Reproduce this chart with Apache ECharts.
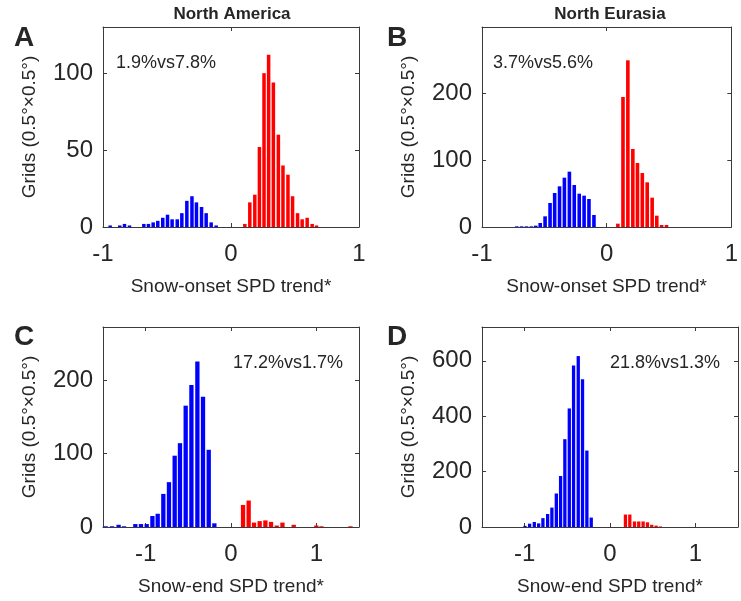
<!DOCTYPE html>
<html>
<head>
<meta charset="utf-8">
<script src="https://cdn.jsdelivr.net/npm/echarts@6/dist/echarts.min.js"></script>
<style>
  html, body { margin: 0; padding: 0; background: #fff; }
  #chart { width: 741px; height: 601px; }
</style>
</head>
<body>
<div id="chart"></div>
<script>
  // bin centres and grid counts
  const naOnsetNegX = [-0.944, -0.869, -0.832, -0.793, -0.681, -0.645, -0.608, -0.572, -0.533, -0.496, -0.46, -0.42, -0.384, -0.345, -0.305, -0.27, -0.23, -0.194, -0.155, -0.116];
  const naOnsetNegY = [1, 1, 2, 1, 2, 2, 3, 4, 6, 8, 5, 5, 9, 17, 20, 16, 13, 9, 3, 1];
  const naOnsetPosX = [0.108, 0.147, 0.186, 0.222, 0.258, 0.294, 0.331, 0.37, 0.406, 0.445, 0.481, 0.52, 0.556, 0.595, 0.634, 0.668];
  const naOnsetPosY = [2, 16, 21, 52, 100, 112, 94, 60, 40, 34, 20, 9, 5, 6, 2, 1];

  const euOnsetNegX = [-0.721, -0.682, -0.643, -0.604, -0.569, -0.533, -0.494, -0.454, -0.417, -0.378, -0.339, -0.299, -0.26, -0.22, -0.181, -0.142, -0.102];
  const euOnsetNegY = [1, 1, 1, 1, 2, 6, 16, 36, 51, 61, 74, 83, 63, 50, 47, 42, 18];
  const euOnsetPosX = [0.09, 0.131, 0.17, 0.21, 0.247, 0.286, 0.325, 0.365, 0.402, 0.441, 0.48];
  const euOnsetPosY = [5, 195, 250, 117, 96, 81, 67, 44, 17, 3, 3];

  const naEndNegX = [-1.469, -1.395, -1.317, -1.254, -1.121, -1.055, -0.988, -0.921, -0.859, -0.793, -0.727, -0.66, -0.598, -0.531, -0.464, -0.394, -0.328, -0.261, -0.195];
  const naEndNegY = [1, 1, 3, 1, 4, 4, 4, 15, 18, 45, 61, 97, 114, 165, 193, 225, 177, 105, 5];
  const naEndPosX = [0.141, 0.207, 0.27, 0.336, 0.403, 0.469, 0.536, 0.603, 0.735, 1.0, 1.06, 1.4];
  const naEndPosY = [30, 36, 6, 8, 9, 7, 2, 6, 3, 2, 1, 1];

  const euEndNegX = [-0.996, -0.942, -0.887, -0.836, -0.786, -0.731, -0.681, -0.629, -0.579, -0.529, -0.477, -0.427, -0.372, -0.322, -0.271, -0.22];
  const euEndNegY = [4, 12, 18, 13, 32, 47, 70, 121, 184, 317, 428, 583, 617, 533, 276, 34];
  const euEndPosX = [0.181, 0.232, 0.287, 0.337, 0.388, 0.439, 0.489, 0.54, 0.59];
  const euEndPosY = [45, 45, 20, 20, 20, 17, 8, 5, 2];

  // axis ticks
  const onsetXTicks = [-1, 0, 1];
  const endXTicks = [-1, 0, 1];
  const naOnsetYTicks = [0, 50, 100];
  const euOnsetYTicks = [0, 100, 200];
  const naEndYTicks = [0, 100, 200];
  const euEndYTicks = [0, 200, 400, 600];

  const regionTitles = ['North America', 'North Eurasia'];
  const panelLetters = ['A', 'B', 'C', 'D'];
  const shareTexts = ['1.9%vs7.8%', '3.7%vs5.6%', '17.2%vs1.7%', '21.8%vs1.3%'];
  const xNames = ['Snow-onset SPD trend*', 'Snow-end SPD trend*'];
  const yName = 'Grids (0.5°×0.5°)';

  const FONT = '"Liberation Sans", Arial, Helvetica, sans-serif';
  const AXIS_COLOR = '#3a3a3a';
  const TEXT_COLOR = '#262626';

  const zip = (xs, ys) => xs.map((x, i) => [x, ys[i]]);

  const panels = [
    { grid: { left: 103, top: 27, width: 256, height: 200 }, xMin: -1, xMax: 1, yMax: 130,
      xTicks: onsetXTicks, yTicks: naOnsetYTicks, xName: xNames[0], barWidth: 3.5,
      neg: zip(naOnsetNegX, naOnsetNegY), pos: zip(naOnsetPosX, naOnsetPosY) },
    { grid: { left: 482, top: 27, width: 255, height: 200 }, xMin: -1, xMax: 1, yMax: 300,
      xTicks: onsetXTicks, yTicks: euOnsetYTicks, xName: xNames[0], barWidth: 3.6,
      neg: zip(euOnsetNegX, euOnsetNegY), pos: zip(euOnsetPosX, euOnsetPosY) },
    { grid: { left: 103, top: 327, width: 256, height: 200 }, xMin: -1.5, xMax: 1.5, yMax: 272,
      xTicks: endXTicks, yTicks: naEndYTicks, xName: xNames[1], barWidth: 4.3,
      neg: zip(naEndNegX, naEndNegY), pos: zip(naEndPosX, naEndPosY) },
    { grid: { left: 482, top: 327, width: 256, height: 200 }, xMin: -1.5, xMax: 1.5, yMax: 722,
      xTicks: endXTicks, yTicks: euEndYTicks, xName: xNames[1], barWidth: 3.3,
      neg: zip(euEndNegX, euEndNegY), pos: zip(euEndPosX, euEndPosY) },
  ];

  const grid = [];
  const xAxis = [];
  const yAxis = [];
  const series = [];

  panels.forEach((p, i) => {
    grid.push(p.grid);
    const tick = { show: true, inside: true, length: 4, lineStyle: { color: AXIS_COLOR, width: 1 } };
    const line = { show: true, onZero: false, lineStyle: { color: AXIS_COLOR, width: 1 } };
    xAxis.push({
      type: 'value', gridIndex: i, min: p.xMin, max: p.xMax, position: 'bottom',
      axisLine: line, splitLine: { show: false },
      axisTick: { ...tick, customValues: p.xTicks },
      axisLabel: { customValues: p.xTicks, fontSize: 24, fontFamily: FONT, color: TEXT_COLOR, margin: 15 },
      name: p.xName, nameLocation: 'middle', nameGap: 50,
      nameTextStyle: { fontSize: 19, fontFamily: FONT, color: TEXT_COLOR },
    });
    xAxis.push({
      type: 'value', gridIndex: i, min: p.xMin, max: p.xMax, position: 'top',
      axisLine: line, splitLine: { show: false },
      axisTick: { ...tick, customValues: p.xTicks },
      axisLabel: { show: false },
    });
    yAxis.push({
      type: 'value', gridIndex: i, min: 0, max: p.yMax, position: 'left',
      axisLine: line, splitLine: { show: false },
      axisTick: { ...tick, customValues: p.yTicks },
      axisLabel: { customValues: p.yTicks, fontSize: 24, fontFamily: FONT, color: TEXT_COLOR, margin: 10 },
      name: yName, nameLocation: 'middle', nameRotate: 90, nameGap: 64,
      nameTextStyle: { fontSize: 19, fontFamily: FONT, color: TEXT_COLOR },
    });
    yAxis.push({
      type: 'value', gridIndex: i, min: 0, max: p.yMax, position: 'right',
      axisLine: line, splitLine: { show: false },
      axisTick: { ...tick, customValues: p.yTicks },
      axisLabel: { show: false },
    });
    series.push({
      type: 'bar', xAxisIndex: i * 2, yAxisIndex: i * 2, data: p.neg,
      barWidth: p.barWidth, barGap: '-100%', itemStyle: { color: '#0000ff' }, silent: true,
    });
    series.push({
      type: 'bar', xAxisIndex: i * 2, yAxisIndex: i * 2, data: p.pos,
      barWidth: p.barWidth, barGap: '-100%', itemStyle: { color: '#ff0000' }, silent: true,
    });
  });

  const txt = (x, y, text, font, align) => ({
    type: 'text', x, y, silent: true,
    style: { text, font, fill: TEXT_COLOR, textAlign: align, align, textVerticalAlign: 'middle', verticalAlign: 'middle' },
  });

  const graphic = [
    txt(24, 38, panelLetters[0], `bold 28px ${FONT}`, 'center'),
    txt(397, 38, panelLetters[1], `bold 28px ${FONT}`, 'center'),
    txt(24, 337, panelLetters[2], `bold 28px ${FONT}`, 'center'),
    txt(397, 337, panelLetters[3], `bold 28px ${FONT}`, 'center'),
    txt(232, 14, regionTitles[0], `bold 17px ${FONT}`, 'center'),
    txt(610, 14, regionTitles[1], `bold 17px ${FONT}`, 'center'),
    txt(116, 63, shareTexts[0], `18px ${FONT}`, 'left'),
    txt(493, 63, shareTexts[1], `18px ${FONT}`, 'left'),
    txt(233, 363, shareTexts[2], `18px ${FONT}`, 'left'),
    txt(610, 363, shareTexts[3], `18px ${FONT}`, 'left'),
  ];

  const chart = echarts.init(document.getElementById('chart'));
  chart.setOption({
    animation: false,
    backgroundColor: '#ffffff',
    grid, xAxis, yAxis, series, graphic,
  });
</script>
</body>
</html>
